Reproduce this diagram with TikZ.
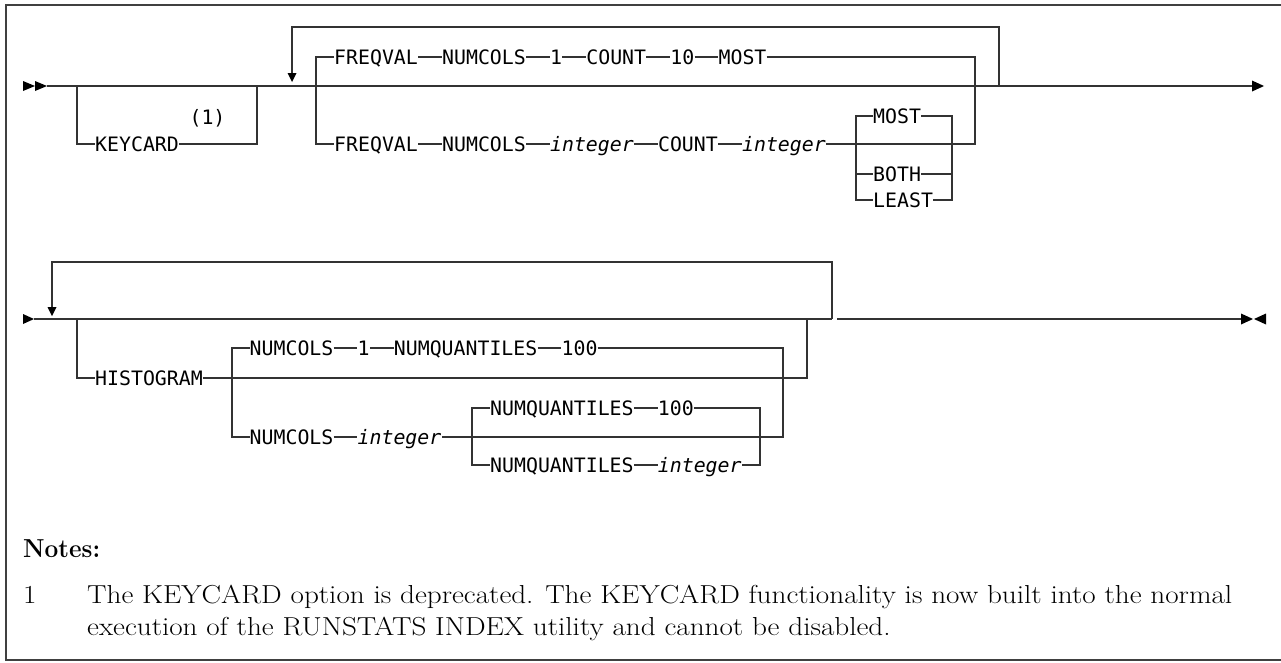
\documentclass[tikz,border=0pt]{standalone}
\usepackage{fontspec}
\usepackage{graphicx}
\newfontfamily\dmono{DejaVu Sans Mono}
\usetikzlibrary{positioning}
\newlength{\notewd}
\newlength{\notesbwd}
\newcommand{\lineone}{The KEYCARD option is deprecated. The KEYCARD functionality is now built into the normal}
\newcommand{\linetwo}{execution of the RUNSTATS INDEX utility and cannot be disabled.}
\begin{document}
\settowidth{\notewd}{\fontsize{26}{30}\selectfont\lineone}%
\settowidth{\notesbwd}{\fontsize{26}{30}\selectfont\bfseries Notes:}%
\pgfmathsetmacro{\nsx}{1145/\notewd}%
\pgfmathsetmacro{\nbx}{77/\notesbwd}%
\begin{tikzpicture}[x=1pt,y=-1pt,
  ln/.style={line width=1.4pt, draw=black!80},
  tok/.style={font=\dmono\fontsize{19.85}{20}\selectfont, inner sep=0pt, text height=14.5pt, text depth=0pt, anchor=west},
  tri/.style={fill=black},
  note/.style={font=\fontsize{26}{30}\selectfont, inner sep=0pt, anchor=base west},
  node distance=23.9pt]
\useasboundingbox (0,0) rectangle (1281,662);
% frame
\draw[line width=2pt, black!75] (1281,4.5) -- (6,4.5) -- (6,659.5) -- (1281,659.5);

% ---------- Row 1 ----------
\coordinate (r1s) at (47,86);
\coordinate (r1e) at (1252,86);
\fill[tri] (23,81) -- (35,86) -- (23,91) -- cycle;
\fill[tri] (35,81) -- (47,86) -- (35,91) -- cycle;
\draw[ln] (r1s) -- (r1e);
\fill[tri] (1252,80.5) -- (1264,86) -- (1252,91.5) -- cycle;

% KEYCARD
\node[tok] (kc) at (95,144) {KEYCARD};
\node[tok, anchor=center] (fn1) at (207.5,117) {(1)};
\draw[ln] (77,86) |- (kc.west);
\draw[ln] (kc.east) -| (257,86);

% repeat loop
\draw[ln] (999,86) -- (999,27) -- (292,27) -- (292,73);
\fill[tri] (287.5,73) -- (296.5,73) -- (292,82) -- cycle;

% FREQVAL top
\node[tok] (f1) at (334,57) {FREQVAL};
\node[tok, right=of f1] (nc1) {NUMCOLS};
\node[tok, right=of nc1] (one1) {1};
\node[tok, right=of one1] (c1) {COUNT};
\node[tok, right=of c1] (ten1) {10};
\node[tok, right=of ten1] (m1) {MOST};
\foreach \a/\b in {f1/nc1, nc1/one1, one1/c1, c1/ten1, ten1/m1}
  \draw[ln] (\a.east) -- (\b.west);
% FREQVAL bottom
\node[tok] (f2) at (334,144) {FREQVAL};
\node[tok, right=of f2] (nc2) {NUMCOLS};
\node[tok, right=of nc2] (i1) {\itshape integer};
\node[tok, right=of i1] (c2) {COUNT};
\node[tok, right=of c2] (i2) {\itshape integer};
\foreach \a/\b in {f2/nc2, nc2/i1, i1/c2, c2/i2}
  \draw[ln] (\a.east) -- (\b.west);
\draw[ln] (f1.west) -| (316,144) -- (f2.west);
\draw[ln] (m1.east) -| (975,144) -- (i2.east);

% MOST / BOTH / LEAST
\node[tok] (mo) at (873,116) {MOST};
\node[tok] (bo) at (873,174) {BOTH};
\node[tok] (le) at (873,200) {LEAST};
\draw[ln] (mo.west) -| (856,200) -- (le.west);
\draw[ln] (mo.east) -| (952,200) -- (le.east);
\draw[ln] (856,174) -- (bo.west);
\draw[ln] (bo.east) -- (952,174);

% ---------- Row 2 ----------
\fill[tri] (23,314) -- (34,319) -- (23,324) -- cycle;
\draw[ln] (34,319) -- (832,319);
\draw[ln] (837,319) -- (1241,319);
\draw[line width=2.2pt, black!80] (837,319) -- (860,319);
\fill[tri] (1241,313.5) -- (1253,319) -- (1241,324.5) -- cycle;
\fill[tri] (1266,313.5) -- (1254,319) -- (1266,324.5) -- cycle;
% repeat loop
\draw[ln] (832,319) -- (832,262) -- (52,262) -- (52,307);
\fill[tri] (47.5,307) -- (56.5,307) -- (52,316) -- cycle;

% HISTOGRAM
\node[tok] (hg) at (95,378) {HISTOGRAM};
\draw[ln] (77,319) |- (hg.west);
\draw[ln] (hg.east) -| (807,319);

% NUMCOLS choice
\node[tok] (h1) at (249.5,348) {NUMCOLS};
\node[tok, right=of h1] (one2) {1};
\node[tok, right=of one2] (nq1) {NUMQUANTILES};
\node[tok, right=of nq1] (h100) {100};
\foreach \a/\b in {h1/one2, one2/nq1, nq1/h100}
  \draw[ln] (\a.east) -- (\b.west);
\node[tok] (h2) at (249.5,437) {NUMCOLS};
\node[tok, right=of h2] (hi) {\itshape integer};
\draw[ln] (h2.east) -- (hi.west);
\draw[ln] (h1.west) -| (232,437) -- (h2.west);
\draw[ln] (h100.east) -| (783,437) -- (hi.east);

% inner NUMQUANTILES choice
\node[tok] (q1) at (490,408) {NUMQUANTILES};
\node[tok, right=of q1] (q100) {100};
\node[tok] (q2) at (490,465) {NUMQUANTILES};
\node[tok, right=of q2] (qi) {\itshape integer};
\draw[ln] (q1.east) -- (q100.west);
\draw[ln] (q2.east) -- (qi.west);
\draw[ln] (q1.west) -| (472,465) -- (q2.west);
\draw[ln] (q100.east) -| (760,465) -- (qi.east);

% ---------- Notes ----------
\node[note, font=\fontsize{26}{30}\selectfont\bfseries] (notes) at (23,557) {\scalebox{\nbx}[1]{Notes:}};
\node[note] (num) at (23,603) {\scalebox{\nsx}[1]{1}};
\node[note] (l1) at (87,603) {\scalebox{\nsx}[1]{\lineone}};
\node[note] (l2) at (87,635) {\scalebox{\nsx}[1]{\linetwo}};
\end{tikzpicture}
\end{document}
